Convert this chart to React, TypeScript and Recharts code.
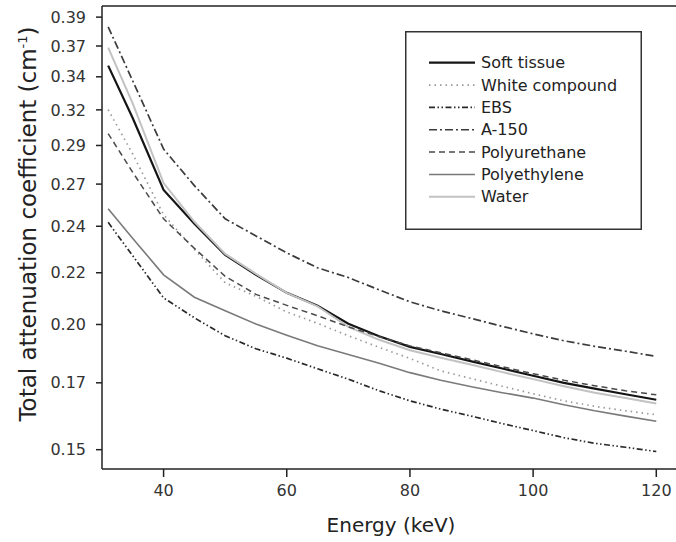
import { LineChart, Line, XAxis, YAxis, Legend, ReferenceLine, Label } from 'recharts'

// photon energy (keV)
const ENERGY = [31, 35, 40, 45, 50, 55, 60, 65, 70, 75, 80, 85, 90, 95, 100, 105, 110, 115, 120]

// total attenuation coefficient (cm-1)
const SOFT_TISSUE = [0.3472, 0.3095, 0.2646, 0.2457, 0.2296, 0.2198, 0.2113, 0.2054, 0.1975, 0.1922, 0.1878, 0.1849, 0.1819, 0.1791, 0.1763, 0.1736, 0.1714, 0.1693, 0.1673]
const WHITE_COMPOUND = [0.3153, 0.2861, 0.2506, 0.2324, 0.2160, 0.2097, 0.2027, 0.1977, 0.1924, 0.1876, 0.1831, 0.1782, 0.1752, 0.1723, 0.1695, 0.1669, 0.1649, 0.1633, 0.1619]
const EBS = [0.2465, 0.2291, 0.2090, 0.2001, 0.1924, 0.1870, 0.1832, 0.1790, 0.1750, 0.1706, 0.1669, 0.1639, 0.1614, 0.1588, 0.1564, 0.1540, 0.1521, 0.1508, 0.1494]
const A150 = [0.3779, 0.3357, 0.2893, 0.2671, 0.2484, 0.2393, 0.2306, 0.2232, 0.2185, 0.2127, 0.2072, 0.2032, 0.1998, 0.1964, 0.1932, 0.1903, 0.1880, 0.1860, 0.1839]
const POLYURETHANE = [0.2993, 0.2749, 0.2484, 0.2329, 0.2191, 0.2106, 0.2056, 0.2010, 0.1962, 0.1920, 0.1882, 0.1854, 0.1826, 0.1798, 0.1771, 0.1746, 0.1725, 0.1706, 0.1691]
const POLYETHYLENE = [0.2539, 0.2380, 0.2198, 0.2093, 0.2032, 0.1974, 0.1926, 0.1882, 0.1847, 0.1812, 0.1775, 0.1746, 0.1721, 0.1699, 0.1679, 0.1655, 0.1633, 0.1614, 0.1596]
const WATER = [0.3611, 0.3195, 0.2686, 0.2468, 0.2301, 0.2203, 0.2113, 0.2052, 0.1962, 0.1907, 0.1864, 0.1834, 0.1806, 0.1777, 0.1750, 0.1723, 0.1699, 0.1679, 0.1659]

const X_TICKS = [40, 60, 80, 100, 120]
const Y_TICKS = [0.15, 0.1736, 0.1972, 0.2208, 0.2444, 0.268, 0.2916, 0.3152, 0.3388, 0.3624, 0.386]
const Y_TICK_LABELS = ['0.15', '0.17', '0.20', '0.22', '0.24', '0.27', '0.29', '0.32', '0.34', '0.37', '0.39']

const X_DOMAIN = [30, 123.2]
const Y_DOMAIN = [0.1438, 0.3955]

const FONT = '"DejaVu Sans", Arial, sans-serif'

const SERIES = [
  { key: 'soft', name: 'Soft tissue', values: SOFT_TISSUE },
  { key: 'white', name: 'White compound', values: WHITE_COMPOUND },
  { key: 'ebs', name: 'EBS', values: EBS },
  { key: 'a150', name: 'A-150', values: A150 },
  { key: 'pu', name: 'Polyurethane', values: POLYURETHANE },
  { key: 'pe', name: 'Polyethylene', values: POLYETHYLENE },
  { key: 'water', name: 'Water', values: WATER },
]

const STYLE: Record<string, { color: string; width: number; dash?: string }> = {
  soft: { color: '#151515', width: 2.2 },
  white: { color: '#9a9a9a', width: 1.7, dash: '1.5 4' },
  ebs: { color: '#2a2a2a', width: 1.7, dash: '6 2.5 1.5 2.5 1.5 2.5' },
  a150: { color: '#3c3c3c', width: 1.7, dash: '8 3 2 3' },
  pu: { color: '#4a4a4a', width: 1.5, dash: '6 4' },
  pe: { color: '#7a7a7a', width: 1.6 },
  water: { color: '#c2c2c2', width: 2 },
}

// drawing order (water sits on top of soft tissue where they overlap)
const DRAW_ORDER = ['pe', 'ebs', 'a150', 'white', 'soft', 'water', 'pu']

const data = ENERGY.map((e, i) => {
  const row: Record<string, number> = { energy: e }
  SERIES.forEach((s) => { row[s.key] = s.values[i] })
  return row
})

function LegendBox() {
  return (
    <svg width={237} height={199} style={{ display: 'block' }}>
      <rect x={0.75} y={0.75} width={235.5} height={197.5} fill="#fff" stroke="#333" strokeWidth={1.5} />
      {SERIES.map((s, i) => {
        const st = STYLE[s.key]
        const cy = 31.7 + i * 22.35
        return (
          <g key={s.key}>
            <line x1={24} x2={70} y1={cy} y2={cy} stroke={st.color}
              strokeWidth={st.width} strokeDasharray={st.dash} />
            <text x={76} y={cy} dominantBaseline="central" fontSize={16}
              fontFamily={FONT} fill="#222">{s.name}</text>
          </g>
        )
      })}
    </svg>
  )
}

function YTitle() {
  const x = 36
  const y = 224
  return (
    <text x={x} y={y} transform={`rotate(-90 ${x} ${y})`} textAnchor="middle"
      fontSize={23} fontFamily={FONT} fill="#222">
      Total attenuation coefficient (cm<tspan dy={-9} fontSize={13}>-1</tspan><tspan dy={9}>)</tspan>
    </text>
  )
}

function XTitle() {
  return (
    <text x={391} y={532} textAnchor="middle" fontSize={20} fontFamily={FONT} fill="#222">
      Energy (keV)
    </text>
  )
}

export default function App() {
  const axisStroke = { stroke: '#222', strokeWidth: 1.5 }
  return (
    <div style={{ position: 'absolute', left: 0, top: 0, background: '#fff' }}>
      <LineChart width={676} height={542} data={data}
        margin={{ top: 6, right: 0, bottom: 0, left: 0 }}
        style={{ fontFamily: FONT }}>
        <XAxis dataKey="energy" type="number" domain={X_DOMAIN} ticks={X_TICKS}
          allowDataOverflow height={73} interval={0}
          axisLine={axisStroke} tickLine={axisStroke} tickSize={8} tickMargin={8}
          tick={{ fontSize: 16, fill: '#333', fontFamily: FONT }}>
          <Label content={XTitle} />
        </XAxis>
        <YAxis type="number" scale="log" domain={Y_DOMAIN} ticks={Y_TICKS}
          allowDataOverflow width={102} interval={0}
          tickFormatter={(v: number) => Y_TICK_LABELS[Y_TICKS.indexOf(v)] ?? ''}
          axisLine={axisStroke} tickLine={axisStroke} tickSize={6} tickMargin={10}
          tick={{ fontSize: 16, fill: '#333', fontFamily: FONT }}>
          <Label content={YTitle} />
        </YAxis>
        {/* top frame line */}
        <ReferenceLine y={Y_DOMAIN[1]} stroke="#222" strokeWidth={1.5} ifOverflow="visible" />
        {DRAW_ORDER.map((k) => {
          const s = SERIES.find((x) => x.key === k)!
          const st = STYLE[k]
          return (
            <Line key={k} dataKey={k} name={s.name} type="linear" stroke={st.color}
              strokeWidth={st.width} strokeDasharray={st.dash} dot={false}
              activeDot={false} isAnimationActive={false} />
          )
        })}
        <Legend layout="vertical" align="center" verticalAlign="middle"
          wrapperStyle={{ left: 405, top: 31, width: 237, height: 199 }}
          content={() => <LegendBox />} />
      </LineChart>
    </div>
  )
}
